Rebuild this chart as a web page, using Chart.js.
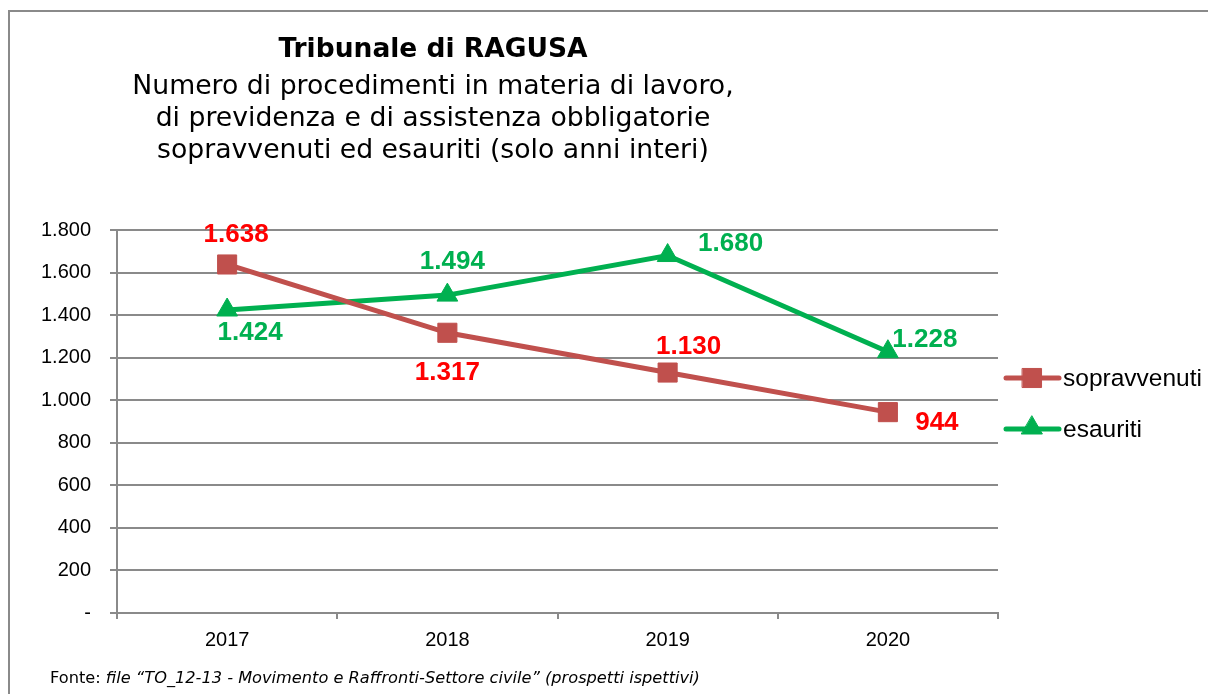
<!DOCTYPE html>
<html lang="it">
<head>
<meta charset="utf-8">
<title>Tribunale di RAGUSA</title>
<script src="https://cdn.jsdelivr.net/npm/chart.js@4.4.1/dist/chart.umd.min.js"></script>
<style>
  html, body { margin: 0; padding: 0; background: #fff; }
  #wrap { position: relative; width: 1208px; height: 694px; overflow: hidden; }
  #frame { position: absolute; left: 8px; top: 10px; width: 1400px; height: 900px;
           border-left: 2px solid #8a8a8a; border-top: 2px solid #8a8a8a; }
  #chartBox { position: absolute; left: 0; top: 0; width: 1208px; height: 694px; }
  .titolo { position: absolute; left: 33px; width: 800px; text-align: center; white-space: nowrap;
            font-family: "DejaVu Sans", sans-serif; color: #000; }
  #t1 { top: 33px; font-size: 26.5px; line-height: 30px; font-weight: bold; }
  #t2 { top: 69px; font-size: 26.7px; line-height: 32px; }
  #fonte { position: absolute; left: 50px; top: 668px; font-family: "DejaVu Sans", sans-serif;
           font-size: 16.2px; color: #000; white-space: nowrap; }
</style>
</head>
<body>
<div id="wrap">
  <div id="frame"></div>
  <div id="chartBox"><canvas id="grafico"></canvas></div>
  <div class="titolo" id="t1">Tribunale di RAGUSA</div>
  <div class="titolo" id="t2">Numero di procedimenti in materia di lavoro,<br>di previdenza e di assistenza obbligatorie<br>sopravvenuti ed esauriti (solo anni interi)</div>
  <div id="fonte">Fonte: <i>file “TO_12-13 - Movimento e Raffronti-Settore civile” (prospetti ispettivi)</i></div>
</div>
<script>
// Dati
const anni = ['2017', '2018', '2019', '2020'];
const sopravvenuti = [1638, 1317, 1130, 944];
const esauriti = [1424, 1494, 1680, 1228];
const yTicks = [0, 200, 400, 600, 800, 1000, 1200, 1400, 1600, 1800];

// Spostamento delle etichette rispetto al punto (px)
const offsetSopravvenuti = [[9, -30], [0, 40], [21, -26], [49, 11]];
const offsetEsauriti = [[23, 23], [5, -33], [63, -12], [37, -12]];

const ROSSO = '#c0504d';
const VERDE = '#00b050';

function formatNum(v) {
  if (v === 0) return '-';
  return v.toString().replace(/\B(?=(\d{3})+(?!\d))/g, '.');
}

// Etichette dei valori e legenda disegnate a mano
const etichettePlugin = {
  id: 'etichette',
  afterDatasetsDraw(chart) {
    const ctx = chart.ctx;
    ctx.save();
    ctx.font = 'bold 26px "Liberation Sans", Arial, sans-serif';
    ctx.textAlign = 'center';
    ctx.textBaseline = 'middle';
    chart.data.datasets.forEach((ds, i) => {
      const meta = chart.getDatasetMeta(i);
      meta.data.forEach((pt, j) => {
        const off = ds.labelOffsets[j];
        ctx.fillStyle = ds.labelColor;
        ctx.fillText(formatNum(ds.data[j]), pt.x + off[0], pt.y + off[1]);
      });
    });

    // legenda
    const voci = [
      { testo: 'sopravvenuti', colore: ROSSO, stile: 'rect', r: 13.5, y: 378 },
      { testo: 'esauriti', colore: VERDE, stile: 'triangle', r: 12, y: 429 }
    ];
    voci.forEach(v => {
      ctx.strokeStyle = v.colore;
      ctx.lineWidth = 5;
      ctx.lineCap = 'round';
      ctx.beginPath();
      ctx.moveTo(1006, v.y);
      ctx.lineTo(1059, v.y);
      ctx.stroke();
      ctx.fillStyle = v.colore;
      ctx.lineWidth = 1;
      Chart.helpers.drawPoint(ctx, { pointStyle: v.stile, radius: v.r, borderWidth: 1 }, 1032, v.stile === 'triangle' ? v.y - 1 : v.y);
      ctx.fillStyle = '#000';
      ctx.textAlign = 'left';
      ctx.font = '24.5px "Liberation Sans", Arial, sans-serif';
      ctx.fillText(v.testo, 1063, v.y + 1);
    });
    ctx.restore();
  }
};

const ctx = document.getElementById('grafico').getContext('2d');
const grafico = new Chart(ctx, {
  type: 'line',
  data: {
    labels: anni,
    datasets: [
      {
        label: 'sopravvenuti',
        data: sopravvenuti,
        borderColor: ROSSO,
        backgroundColor: ROSSO,
        borderWidth: 5,
        pointStyle: 'rect',
        pointRadius: 13.5,
        pointBorderWidth: 1,
        labelColor: '#ff0000',
        labelOffsets: offsetSopravvenuti
      },
      {
        label: 'esauriti',
        data: esauriti,
        borderColor: VERDE,
        backgroundColor: VERDE,
        borderWidth: 5,
        pointStyle: 'triangle',
        pointRadius: 12,
        pointBorderWidth: 1,
        labelColor: VERDE,
        labelOffsets: offsetEsauriti
      }
    ]
  },
  options: {
    responsive: true,
    maintainAspectRatio: false,
    animation: false,
    layout: { padding: { left: 0, top: 230, right: 210, bottom: 0 } },
    plugins: {
      legend: { display: false },
      title: { display: false },
      tooltip: { enabled: false }
    },
    scales: {
      x: {
        offset: true,
        afterFit: (scale) => { scale.height = 81; },
        grid: {
          offset: true,
          drawOnChartArea: false,
          drawTicks: true,
          tickLength: 6,
          color: '#8a8a8a',
          lineWidth: 2
        },
        border: { display: true, color: '#8a8a8a', width: 2 },
        ticks: {
          color: '#000',
          padding: 9,
          font: { family: '"Liberation Sans", Arial, sans-serif', size: 20 }
        }
      },
      y: {
        min: 0,
        max: 1800,
        afterFit: (scale) => { scale.width = 117; },
        afterBuildTicks: (scale) => { scale.ticks = yTicks.map(v => ({ value: v })); },
        grid: {
          color: '#8a8a8a',
          lineWidth: 2,
          drawTicks: true,
          tickLength: 7
        },
        border: { display: true, color: '#8a8a8a', width: 2 },
        ticks: {
          color: '#000',
          padding: 19,
          font: { family: '"Liberation Sans", Arial, sans-serif', size: 20 },
          callback: (v) => formatNum(v)
        }
      }
    }
  },
  plugins: [etichettePlugin]
});
</script>
</body>
</html>
